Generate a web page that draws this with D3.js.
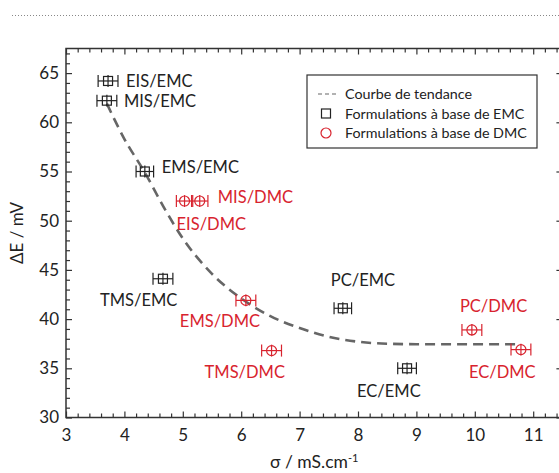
<!DOCTYPE html>
<html><head><meta charset="utf-8">
<script src="https://cdn.jsdelivr.net/npm/d3@7"></script>
<style>
html,body{margin:0;padding:0;background:#fff;}
svg{display:block;font-family:Lato,"Open Sans",sans-serif;}
</style></head>
<body><svg id="chart" width="559" height="473"></svg>
<script>
// ---- data ----
const emcNames = ["EIS/EMC","MIS/EMC","EMS/EMC","TMS/EMC","PC/EMC","EC/EMC"];
const emcSigma = [3.72, 3.70, 4.35, 4.66, 7.74, 8.84];
const emcDeltaE = [64.2, 62.2, 55.0, 44.1, 41.1, 35.0];
const emcSigmaErr = [0.17, 0.17, 0.15, 0.17, 0.15, 0.16];
const emcDeltaEErr = [0.6, 0.6, 0.6, 0.6, 0.6, 0.6];

const dmcNames = ["EIS/DMC","MIS/DMC","EMS/DMC","TMS/DMC","PC/DMC","EC/DMC"];
const dmcSigma = [5.03, 5.29, 6.08, 6.52, 9.95, 10.79];
const dmcDeltaE = [52.0, 52.0, 41.9, 36.8, 38.9, 36.9];
const dmcSigmaErr = [0.14, 0.14, 0.17, 0.17, 0.17, 0.17];
const dmcDeltaEErr = [0.6, 0.6, 0.6, 0.6, 0.6, 0.6];

const trendSigma = [3.70, 4.00, 4.35, 4.70, 5.00, 5.50, 6.00, 6.50, 7.00, 7.50, 8.00, 8.50, 9.00, 10.00, 10.75];
const trendDeltaE = [61.9, 58.3, 54.9, 51.1, 48.2, 44.6, 42.1, 40.3, 39.1, 38.2, 37.7, 37.5, 37.45, 37.45, 37.45];

const xTicks = [3,4,5,6,7,8,9,10,11];
const yTicks = [30,35,40,45,50,55,60,65];
const legendLabels = ["Courbe de tendance","Formulations à base de EMC","Formulations à base de DMC"];

// ---- layout (not data) ----
const emcLabelPos = [[18,6],[17,6],[17,1],[-63,27],[-12,-22],[-50,29]];
const dmcLabelPos = [[-8,29],[18,2],[-66,27],[-67,27],[-12,-18],[-52,28]];

const W = 559, H = 473;
const svg = d3.select("#chart");
const x = d3.scaleLinear().domain([3, 11.5]).range([66, 562.4]);
const y = d3.scaleLinear().domain([30, 67.5]).range([417.5, 48.5]);
const axisColor = "#333";
const red = "#d8232e";
const black = "#222";

// top dotted rule
svg.append("line").attr("x1",12).attr("x2",W).attr("y1",15.5).attr("y2",15.5)
  .attr("stroke","#888").attr("stroke-width",1).attr("stroke-dasharray","1,2");

// frame
svg.append("rect").attr("x",x(3)).attr("y",y(67.5)).attr("width",x(11.5)-x(3)).attr("height",y(30)-y(67.5))
  .attr("fill","none").attr("stroke",axisColor).attr("stroke-width",1.5);

function styleAxis(g){
  g.select(".domain").remove();
  g.selectAll(".tick line").attr("stroke",axisColor).attr("stroke-width",1.2);
  g.selectAll(".tick text").attr("fill","#222").style("font-size","17px").style("font-family","Lato,'Open Sans',sans-serif");
}
const xMinor = d3.range(3, 11.5001, 0.2).map(v=>+v.toFixed(2)).filter(v=>Math.abs(v-Math.round(v))>1e-6);
const yMinor = d3.range(30, 67.5001, 1).filter(v=>v%5!==0);

// bottom
svg.append("g").attr("transform",`translate(0,${y(30)})`)
  .call(d3.axisBottom(x).tickValues(xTicks).tickSizeInner(-6).tickSizeOuter(0).tickPadding(11).tickFormat(d3.format("d"))).call(styleAxis);
svg.append("g").attr("transform",`translate(0,${y(30)})`)
  .call(d3.axisBottom(x).tickValues(xMinor).tickSizeInner(-4).tickSizeOuter(0).tickFormat("")).call(styleAxis);
// top
svg.append("g").attr("transform",`translate(0,${y(67.5)})`)
  .call(d3.axisTop(x).tickValues(xTicks).tickSizeInner(-6).tickSizeOuter(0).tickFormat("")).call(styleAxis);
svg.append("g").attr("transform",`translate(0,${y(67.5)})`)
  .call(d3.axisTop(x).tickValues(xMinor).tickSizeInner(-4).tickSizeOuter(0).tickFormat("")).call(styleAxis);
// left
svg.append("g").attr("transform",`translate(${x(3)},0)`)
  .call(d3.axisLeft(y).tickValues(yTicks).tickSizeInner(-6).tickSizeOuter(0).tickPadding(7).tickFormat(d3.format("d"))).call(styleAxis);
svg.append("g").attr("transform",`translate(${x(3)},0)`)
  .call(d3.axisLeft(y).tickValues(yMinor).tickSizeInner(-4).tickSizeOuter(0).tickFormat("")).call(styleAxis);
// right
svg.append("g").attr("transform",`translate(${x(11.5)},0)`)
  .call(d3.axisRight(y).tickValues(yTicks).tickSizeInner(-6).tickSizeOuter(0).tickFormat("")).call(styleAxis);

// axis titles
svg.append("text").attr("transform",`translate(23,${(y(30)+y(67.5))/2}) rotate(-90)`)
  .attr("text-anchor","middle").attr("fill","#222").style("font-size","17px").text("ΔE / mV");
const xt = svg.append("text").attr("x",270).attr("y",468)
  .attr("text-anchor","start").attr("fill","#222").style("font-size","17.5px");
xt.append("tspan").text("σ / mS.cm");
xt.append("tspan").attr("dy",-6).style("font-size","11px").text("-1");

// trend curve
const trend = trendSigma.map((s,i)=>[s, trendDeltaE[i]]);
svg.append("path").datum(trend)
  .attr("d", d3.line().x(d=>x(d[0])).y(d=>y(d[1])).curve(d3.curveMonotoneX))
  .attr("fill","none").attr("stroke","#666").attr("stroke-width",2.6).attr("stroke-dasharray","10,6");

function drawPoints(names, sx, sy, ex, ey, color, shape, labelPos){
  const g = svg.append("g");
  names.forEach((n,i)=>{
    const cx = x(sx[i]), cy = y(sy[i]);
    const x0 = x(sx[i]-ex[i]), x1 = x(sx[i]+ex[i]);
    const y0 = y(sy[i]-ey[i]), y1 = y(sy[i]+ey[i]);
    const pg = g.append("g").attr("stroke",color).attr("stroke-width",1.2).attr("fill","none");
    pg.append("line").attr("x1",x0).attr("x2",x1).attr("y1",cy).attr("y2",cy);
    pg.append("line").attr("x1",x0).attr("x2",x0).attr("y1",cy-6).attr("y2",cy+6);
    pg.append("line").attr("x1",x1).attr("x2",x1).attr("y1",cy-6).attr("y2",cy+6);
    pg.append("line").attr("x1",cx).attr("x2",cx).attr("y1",y0).attr("y2",y1);
    if(shape==="square"){
      pg.append("rect").attr("x",cx-4.5).attr("y",cy-4.5).attr("width",9).attr("height",9);
    } else {
      pg.append("circle").attr("cx",cx).attr("cy",cy).attr("r",5);
    }
    g.append("text").attr("x",cx+labelPos[i][0]).attr("y",cy+labelPos[i][1])
      .attr("fill",color).style("font-size","16.5px").text(n);
  });
}
drawPoints(emcNames, emcSigma, emcDeltaE, emcSigmaErr, emcDeltaEErr, black, "square", emcLabelPos);
drawPoints(dmcNames, dmcSigma, dmcDeltaE, dmcSigmaErr, dmcDeltaEErr, red, "circle", dmcLabelPos);

// legend
const lg = svg.append("g");
lg.append("rect").attr("x",307).attr("y",75).attr("width",230).attr("height",73)
  .attr("fill","#fff").attr("stroke","#333").attr("stroke-width",1.2);
const rows = [94, 113.5, 133];
lg.append("line").attr("x1",318).attr("x2",337).attr("y1",rows[0]).attr("y2",rows[0])
  .attr("stroke","#666").attr("stroke-width",1.2).attr("stroke-dasharray","4,3");
lg.append("rect").attr("x",321.5).attr("y",rows[1]-4.5).attr("width",9).attr("height",9)
  .attr("fill","none").attr("stroke","#222").attr("stroke-width",1.2);
lg.append("circle").attr("cx",326).attr("cy",rows[2]).attr("r",5)
  .attr("fill","none").attr("stroke",red).attr("stroke-width",1.2);
legendLabels.forEach((t,i)=>{
  lg.append("text").attr("x",345).attr("y",rows[i]).attr("dy","0.35em")
    .attr("fill","#222").style("font-size","14.3px").text(t);
});
</script></body></html>
